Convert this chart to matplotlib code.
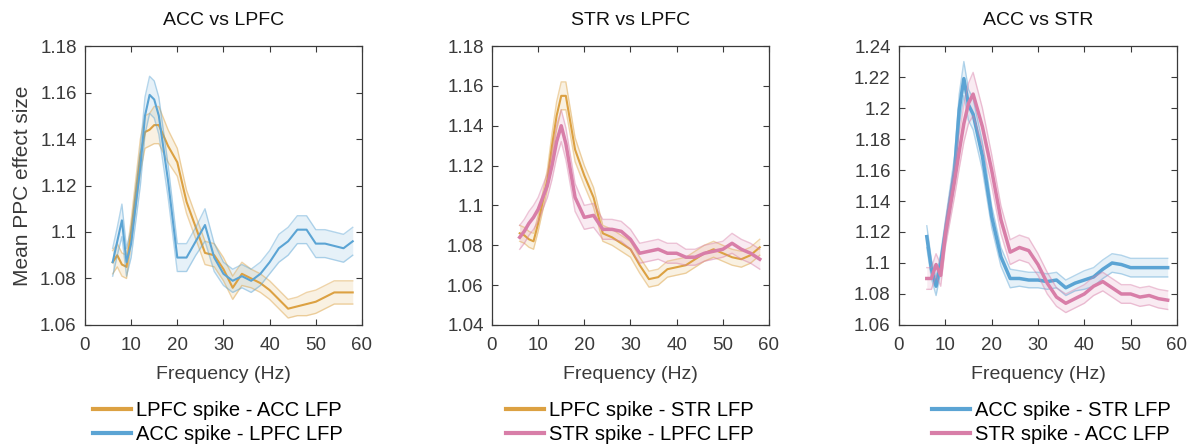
import matplotlib
matplotlib.use("Agg")
import matplotlib.pyplot as plt
from matplotlib.ticker import FuncFormatter
import numpy as np

plt.rcParams["font.family"] = ["Liberation Sans", "DejaVu Sans"]

ORANGE = "#DCA142"
BLUE = "#5BA4D4"
PINK = "#D87EA8"

freq = [6, 7, 8, 9, 10, 12, 13, 14, 15, 16, 18, 20, 22, 24, 26, 28, 30, 32, 34, 36,
        38, 40, 42, 44, 46, 48, 50, 52, 54, 56, 58]

# ACC vs LPFC
lpfc_acc_mean = [1.087, 1.090, 1.086, 1.085, 1.100, 1.133, 1.143, 1.144, 1.146, 1.146,
                 1.137, 1.130, 1.113, 1.102, 1.091, 1.090, 1.084, 1.076, 1.082, 1.080,
                 1.078, 1.075, 1.071, 1.067, 1.068, 1.069, 1.070, 1.072, 1.074, 1.074, 1.074]
lpfc_acc_err = [0.005, 0.005, 0.005, 0.005, 0.005, 0.007, 0.007, 0.007, 0.008, 0.008,
                0.007, 0.006, 0.005, 0.005, 0.005, 0.005, 0.005, 0.005, 0.005, 0.004,
                0.004, 0.004, 0.004, 0.004, 0.004, 0.005, 0.005, 0.005, 0.005, 0.005, 0.005]
acc_lpfc_mean = [1.087, 1.096, 1.105, 1.087, 1.095, 1.128, 1.150, 1.159, 1.157, 1.150,
                 1.122, 1.089, 1.089, 1.096, 1.103, 1.089, 1.082, 1.079, 1.081, 1.079,
                 1.082, 1.087, 1.093, 1.096, 1.101, 1.101, 1.095, 1.095, 1.094, 1.093, 1.096]
acc_lpfc_err = [0.006, 0.006, 0.007, 0.006, 0.006, 0.008, 0.008, 0.008, 0.008, 0.008,
                0.007, 0.006, 0.006, 0.006, 0.007, 0.006, 0.005, 0.005, 0.005, 0.005,
                0.005, 0.005, 0.006, 0.006, 0.006, 0.006, 0.006, 0.006, 0.006, 0.006, 0.006]

# STR vs LPFC
lpfc_str_mean = [1.086, 1.085, 1.083, 1.082, 1.091, 1.113, 1.130, 1.145, 1.155, 1.155,
                 1.128, 1.115, 1.104, 1.086, 1.084, 1.081, 1.078, 1.070, 1.063, 1.064,
                 1.068, 1.069, 1.070, 1.073, 1.076, 1.078, 1.076, 1.074, 1.073, 1.075, 1.079]
lpfc_str_err = [0.004, 0.004, 0.004, 0.004, 0.004, 0.005, 0.006, 0.007, 0.007, 0.007,
                0.006, 0.005, 0.005, 0.004, 0.004, 0.004, 0.004, 0.004, 0.004, 0.004,
                0.004, 0.004, 0.004, 0.004, 0.004, 0.004, 0.004, 0.004, 0.004, 0.004, 0.004]
str_lpfc_mean = [1.084, 1.087, 1.091, 1.094, 1.098, 1.110, 1.120, 1.132, 1.140, 1.131,
                 1.104, 1.094, 1.095, 1.088, 1.088, 1.087, 1.083, 1.076, 1.077, 1.078,
                 1.076, 1.076, 1.074, 1.074, 1.076, 1.077, 1.078, 1.081, 1.078, 1.076, 1.073]
str_lpfc_err = [0.006, 0.006, 0.006, 0.006, 0.006, 0.006, 0.007, 0.008, 0.008, 0.008,
                0.007, 0.006, 0.006, 0.005, 0.005, 0.005, 0.005, 0.005, 0.005, 0.005,
                0.005, 0.005, 0.004, 0.004, 0.004, 0.004, 0.004, 0.005, 0.005, 0.005, 0.005]

# ACC vs STR
acc_str_mean = [1.117, 1.096, 1.085, 1.100, 1.120, 1.160, 1.199, 1.219, 1.202, 1.196,
                1.169, 1.130, 1.104, 1.090, 1.090, 1.089, 1.089, 1.088, 1.089, 1.084,
                1.087, 1.089, 1.091, 1.096, 1.100, 1.099, 1.097, 1.097, 1.097, 1.097, 1.097]
acc_str_err = [0.007, 0.006, 0.006, 0.006, 0.007, 0.009, 0.010, 0.011, 0.010, 0.010,
               0.009, 0.007, 0.006, 0.006, 0.005, 0.005, 0.005, 0.005, 0.005, 0.005,
               0.005, 0.006, 0.006, 0.006, 0.006, 0.006, 0.006, 0.006, 0.006, 0.006, 0.006]
str_acc_mean = [1.090, 1.090, 1.099, 1.092, 1.118, 1.153, 1.172, 1.190, 1.203, 1.209,
                1.188, 1.160, 1.128, 1.107, 1.110, 1.108, 1.099, 1.087, 1.078, 1.074,
                1.077, 1.080, 1.085, 1.088, 1.084, 1.080, 1.080, 1.078, 1.079, 1.077, 1.076]
str_acc_err = [0.007, 0.007, 0.007, 0.007, 0.008, 0.010, 0.011, 0.012, 0.013, 0.014,
               0.012, 0.010, 0.009, 0.008, 0.008, 0.008, 0.007, 0.007, 0.006, 0.006,
               0.006, 0.006, 0.006, 0.006, 0.006, 0.006, 0.006, 0.006, 0.006, 0.006, 0.006]


def shaded(ax, mean, err, color, lw, label):
    m = np.array(mean)
    e = np.array(err)
    ax.fill_between(freq, m - e, m + e, color=color, alpha=0.15, linewidth=0)
    ax.plot(freq, m + e, color=color, alpha=0.45, linewidth=1.0)
    ax.plot(freq, m - e, color=color, alpha=0.45, linewidth=1.0)
    line, = ax.plot(freq, m, color=color, linewidth=lw, label=label)
    return line


def style(ax, title, ylim, yticks):
    ax.set_xlim(0, 60)
    ax.set_ylim(*ylim)
    ax.set_xticks([0, 10, 20, 30, 40, 50, 60])
    ax.set_yticks(yticks)
    ax.yaxis.set_major_formatter(FuncFormatter(lambda v, p: f"{v:g}"))
    ax.tick_params(direction="in", top=True, right=True, labelsize=13.5,
                   colors="#3a3a3a", length=4, width=0.8, pad=6)
    ax.tick_params(axis="x", pad=9)
    for s in ax.spines.values():
        s.set_color("#3a3a3a")
        s.set_linewidth(0.9)
    ax.set_title(title, fontsize=14, pad=15, color="#111111")
    ax.set_xlabel("Frequency (Hz)", fontsize=14, color="#3a3a3a", labelpad=8)


fig = plt.figure(figsize=(11.95, 4.47), dpi=100)
ax1 = fig.add_axes([0.0711, 0.273, 0.2318, 0.624])
ax2 = fig.add_axes([0.4117, 0.273, 0.2318, 0.624])
ax3 = fig.add_axes([0.7523, 0.273, 0.2326, 0.624])

l1 = shaded(ax1, lpfc_acc_mean, lpfc_acc_err, ORANGE, 1.5, "LPFC spike - ACC LFP")
l2 = shaded(ax1, acc_lpfc_mean, acc_lpfc_err, BLUE, 1.5, "ACC spike - LPFC LFP")
style(ax1, "ACC vs LPFC", (1.06, 1.18), np.arange(1.06, 1.181, 0.02))
ax1.set_ylabel("Mean PPC effect size", fontsize=15, color="#3a3a3a", labelpad=6)

l3 = shaded(ax2, lpfc_str_mean, lpfc_str_err, ORANGE, 1.5, "LPFC spike - STR LFP")
l4 = shaded(ax2, str_lpfc_mean, str_lpfc_err, PINK, 2.5, "STR spike - LPFC LFP")
style(ax2, "STR vs LPFC", (1.04, 1.18), np.arange(1.04, 1.181, 0.02))

l5 = shaded(ax3, acc_str_mean, acc_str_err, BLUE, 2.5, "ACC spike - STR LFP")
l6 = shaded(ax3, str_acc_mean, str_acc_err, PINK, 2.5, "STR spike - ACC LFP")
style(ax3, "ACC vs STR", (1.06, 1.24), np.arange(1.06, 1.241, 0.02))

for ax, handles, xc in [(ax1, [l1, l2], 0.48), (ax2, [l3, l4], 0.498), (ax3, [l5, l6], 0.547)]:
    leg = ax.legend(handles=handles, loc="center", bbox_to_anchor=(xc, -0.35),
                    frameon=False, fontsize=14.5, handlelength=1.9, handletextpad=0.25,
                    labelspacing=0.25, borderpad=0)
    for h in leg.get_lines():
        h.set_linewidth(3)

fig.savefig("out.png", dpi=100)
